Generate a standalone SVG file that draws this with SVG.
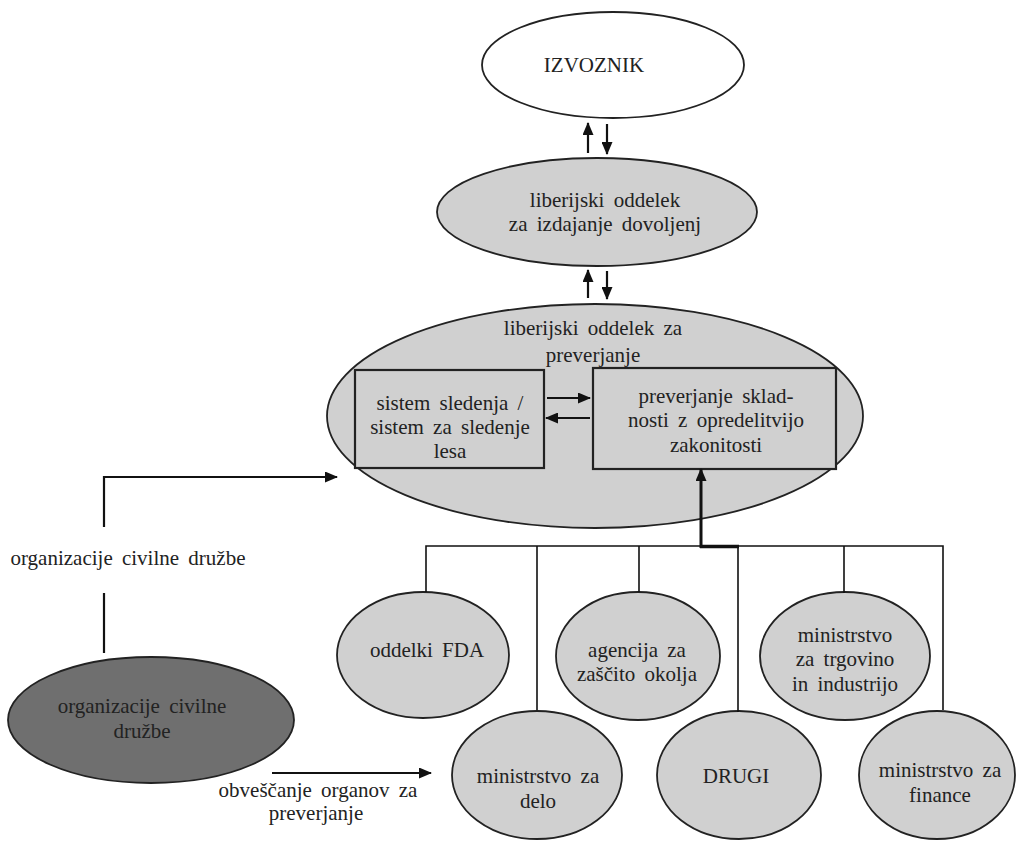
<svg xmlns="http://www.w3.org/2000/svg" width="1016" height="841" viewBox="0 0 1016 841">
<style>
text{font-family:"Liberation Serif","Liberation Sans",Arial,sans-serif;font-size:21px;fill:#222;text-anchor:middle;word-spacing:4px}
.e{fill:#d0d0d0;stroke:#222;stroke-width:1.8}
.w{fill:#fff;stroke:#222;stroke-width:1.8}
.d{fill:#6f6f6f;stroke:#222;stroke-width:1.8}
.b{fill:#d0d0d0;stroke:#222;stroke-width:2.2}
.c{fill:none;stroke:#111;stroke-width:2.2}
.t{fill:none;stroke:#111;stroke-width:1.6}
</style>
<defs>
<marker id="ah" markerUnits="userSpaceOnUse" markerWidth="13" markerHeight="11" refX="12" refY="5.5" orient="auto">
<path d="M0,0 L13,5.5 L0,11 z" fill="#111"/>
</marker>
</defs>
<g id="izvoznik"><ellipse class="w" cx="613" cy="65" rx="131" ry="53"/><text x="594" y="72" font-size="20">IZVOZNIK</text></g>
<g id="dovoljenja"><ellipse class="e" cx="597" cy="212" rx="160" ry="54"/><text x="605" y="207">liberijski oddelek</text><text x="605" y="231">za izdajanje dovoljenj</text></g>
<g id="preverjanje"><ellipse class="e" cx="595" cy="416" rx="268" ry="112"/><text x="593" y="335">liberijski oddelek za</text><text x="593" y="362">preverjanje</text></g>
<g id="sledenje"><rect class="b" x="355" y="370" width="189" height="98"/><text x="450" y="410">sistem sledenja /</text><text x="450" y="434">sistem za sledenje</text><text x="450" y="458">lesa</text></g>
<g id="skladnost"><rect class="b" x="593" y="368" width="243" height="101"/><text x="716" y="403">preverjanje sklad-</text><text x="716" y="427">nosti z opredelitvijo</text><text x="716" y="452">zakonitosti</text></g>
<g id="fda"><ellipse class="e" cx="423" cy="655" rx="86" ry="63"/><text x="427" y="657">oddelki FDA</text></g>
<g id="agencija"><ellipse class="e" cx="638" cy="656" rx="82" ry="64"/><text x="637" y="657">agencija za</text><text x="637" y="681">zaščito okolja</text></g>
<g id="trgovina"><ellipse class="e" cx="845" cy="656" rx="85" ry="64"/><text x="845" y="642">ministrstvo</text><text x="845" y="666">za trgovino</text><text x="845" y="691">in industrijo</text></g>
<g id="delo"><ellipse class="e" cx="537" cy="775" rx="85" ry="64"/><text x="538" y="783">ministrstvo za</text><text x="538" y="808">delo</text></g>
<g id="drugi"><ellipse class="e" cx="739" cy="775" rx="82" ry="64"/><text x="736" y="783">DRUGI</text></g>
<g id="finance"><ellipse class="e" cx="937" cy="775" rx="78" ry="64"/><text x="940" y="777">ministrstvo za</text><text x="940" y="802">finance</text></g>
<g id="ocd"><ellipse class="d" cx="151" cy="720" rx="143" ry="63"/><text x="142" y="713">organizacije civilne</text><text x="142" y="738">družbe</text></g>
<g id="connectors">
<line class="c" x1="588" y1="153" x2="588" y2="123" marker-end="url(#ah)"/>
<line class="c" x1="607" y1="124" x2="607" y2="154" marker-end="url(#ah)"/>
<line class="c" x1="588" y1="298" x2="588" y2="270" marker-end="url(#ah)"/>
<line class="c" x1="607" y1="271" x2="607" y2="299" marker-end="url(#ah)"/>
<line class="c" x1="547" y1="398" x2="590" y2="398" marker-end="url(#ah)"/>
<line class="c" x1="590" y1="418" x2="546" y2="418" marker-end="url(#ah)"/>
<path class="t" d="M426,592 V546 H943 V710 M537,546 V710 M639,546 V592 M738,546 V712 M844,546 V593"/>
<line stroke="#111" stroke-width="3.5" x1="700" y1="546.5" x2="739" y2="546.5"/>
<line stroke="#111" stroke-width="3" x1="701" y1="548" x2="701" y2="469" marker-end="url(#ah)"/>
<polyline class="c" points="104,527 104,477 337,477" marker-end="url(#ah)"/>
<line class="c" x1="104" y1="593" x2="104" y2="653"/>
<text x="128" y="565">organizacije civilne družbe</text>
<line class="c" x1="272" y1="773" x2="431" y2="773" marker-end="url(#ah)"/>
<text x="318" y="797">obveščanje organov za</text>
<text x="316" y="820">preverjanje</text>
</g>
</svg>
